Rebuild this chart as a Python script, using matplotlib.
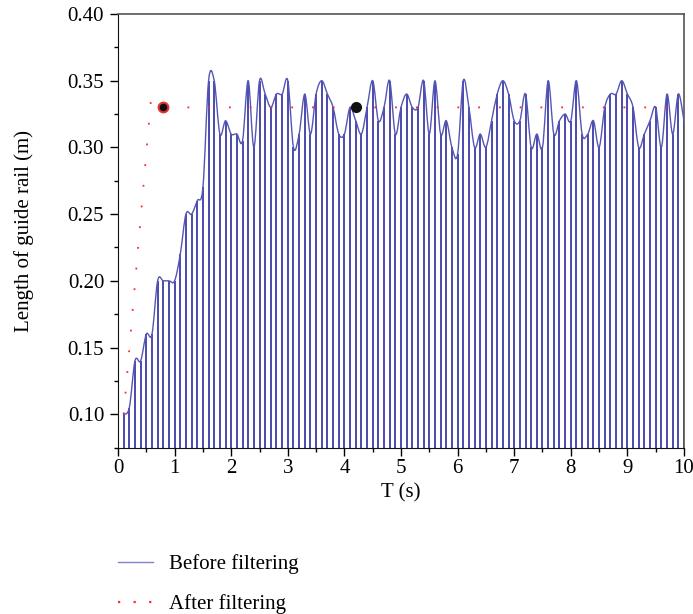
#!/usr/bin/env python3

import numpy as np
import matplotlib
matplotlib.use("Agg")
import matplotlib.pyplot as plt
from matplotlib.path import Path
from matplotlib.patches import PathPatch
from matplotlib.lines import Line2D

# sampled guide rail length before filtering, every 0.1 s
t = np.round(np.arange(1, 101) * 0.1, 1)
before = [
    0.100, 0.105, 0.140, 0.140, 0.160, 0.160, 0.200, 0.200, 0.200, 0.200,
    0.220, 0.250, 0.250, 0.260, 0.270, 0.350, 0.350, 0.310, 0.320, 0.310,
    0.310, 0.305, 0.350, 0.300, 0.350, 0.340, 0.330, 0.340, 0.340, 0.350,
    0.300, 0.310, 0.340, 0.310, 0.340, 0.350, 0.340, 0.330, 0.310, 0.310,
    0.330, 0.320, 0.310, 0.330, 0.350, 0.320, 0.330, 0.350, 0.310, 0.330,
    0.340, 0.330, 0.330, 0.350, 0.310, 0.350, 0.310, 0.320, 0.300, 0.295,
    0.350, 0.330, 0.300, 0.310, 0.300, 0.320, 0.340, 0.350, 0.340, 0.320,
    0.320, 0.340, 0.300, 0.310, 0.300, 0.350, 0.310, 0.320, 0.325, 0.320,
    0.350, 0.310, 0.310, 0.320, 0.300, 0.330, 0.340, 0.340, 0.350, 0.340,
    0.330, 0.300, 0.310, 0.320, 0.330, 0.300, 0.340, 0.310, 0.340, 0.320,
]

# filtered result
t_after = [0.1, 0.58, 0.8, 10.0]
after = [0.100, 0.335, 0.330, 0.330]

# highlighted points
ring_t, ring_v = [0.8], [0.33]
dot_t, dot_v = [4.2], [0.33]

x_ticks = list(range(0, 11))
y_ticks = [0.10, 0.15, 0.20, 0.25, 0.30, 0.35, 0.40]


def smooth_path(x, y):
    # Catmull-Rom spline written as cubic Bezier pieces
    x = np.asarray(x, float)
    y = np.asarray(y, float)
    pts = np.column_stack([x, y])
    ext = np.vstack([pts[0], pts, pts[-1]])
    verts = [pts[0]]
    codes = [Path.MOVETO]
    for i in range(len(pts) - 1):
        p0, p1, p2, p3 = ext[i], ext[i + 1], ext[i + 2], ext[i + 3]
        c1 = p1 + (p2 - p0) / 6.0
        c2 = p2 - (p3 - p1) / 6.0
        verts += [c1, c2, p2]
        codes += [Path.CURVE4] * 3
    return Path(verts, codes)


def main():
    plt.rcParams["font.family"] = ["Liberation Serif", "DejaVu Serif"]
    fs = 15

    fig = plt.figure(figsize=(6.93, 6.14), dpi=100)
    ax = fig.add_axes([0.1703, 0.2704, 0.8167, 0.7068])

    ax.vlines(t, 0, before, colors="#3434a6", linewidth=1.25, zorder=2)
    curve = PathPatch(smooth_path(t, before), facecolor="none",
                      edgecolor="#5555b5", linewidth=1.0, zorder=3)
    ax.add_patch(curve)

    ax.plot(t_after, after, color="#ff2a2a", linewidth=1.3,
            linestyle=(0, (1, 10.5)), zorder=4)
    ax.plot(ring_t, ring_v, "o", markersize=7, markerfacecolor="#111111",
            markeredgecolor="#e83030", markeredgewidth=1.5, zorder=5)
    ax.plot(dot_t, dot_v, "o", markersize=7, color="#111111", zorder=5)

    ax.set_xlim(0, 10)
    ax.set_ylim(0.0747, 0.40)
    ax.set_xticks(x_ticks)
    ax.set_xticks(np.arange(0.5, 10, 1.0), minor=True)
    ax.set_yticks(y_ticks)
    ax.set_yticks(np.arange(0.075, 0.40, 0.05), minor=True)
    ax.set_yticklabels([f"{v:.2f}" for v in y_ticks])
    ax.tick_params(which="both", direction="out", top=False, right=False,
                   labelsize=fs, width=1.0, pad=4)
    ax.tick_params(axis="x", pad=2)
    ax.tick_params(which="major", length=6)
    ax.tick_params(which="minor", length=3)

    for side in ["left", "bottom"]:
        ax.spines[side].set_color("#111111")
    for side in ["top", "right"]:
        ax.spines[side].set_color("#555555")
        ax.spines[side].set_linewidth(1.2)

    ax.set_xlabel("T (s)", fontsize=fs, labelpad=4)
    ax.set_ylabel("Length of guide rail (m)", fontsize=fs, labelpad=24)

    handles = [
        Line2D([], [], color="#8080cc", linewidth=1.0),
        Line2D([], [], color="#ff2a2a", linewidth=1.6, linestyle=(0, (1, 6))),
    ]
    fig.legend(handles, ["Before filtering", "After filtering"],
               loc="upper left", bbox_to_anchor=(0.170, 0.097),
               frameon=False, fontsize=fs, borderpad=0, borderaxespad=0,
               handlelength=1.7, handletextpad=0.75, labelspacing=0.95)

    fig.savefig("out.png", dpi=100)


if __name__ == "__main__":
    main()
